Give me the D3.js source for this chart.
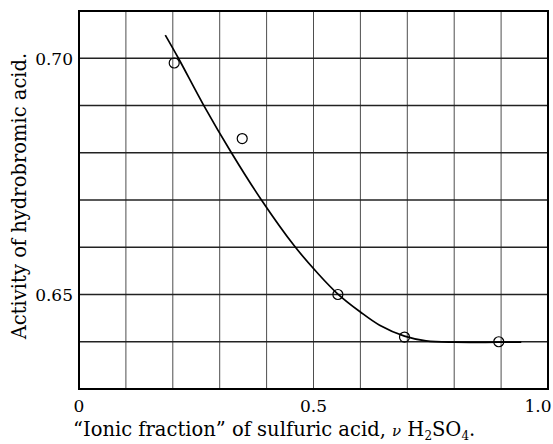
<!DOCTYPE html>
<html>
<head>
<meta charset="utf-8">
<script src="https://cdn.jsdelivr.net/npm/d3@7"></script>
<style>
  body { margin: 0; background: #fff; }
  text { font-family: "DejaVu Serif", "Liberation Serif", serif; fill: #000; }
  .grid line { stroke: #222; }
</style>
</head>
<body>
<div id="chart"></div>
<script>
// --- data ---

// measured points (open circles)
const pointX = [0.203, 0.348, 0.552, 0.694, 0.895];
const pointY = [0.699, 0.683, 0.650, 0.641, 0.640];

// hand-drawn smooth curve through the points
const curveX = [0.184, 0.212, 0.265, 0.325, 0.389, 0.459, 0.509, 0.552, 0.600, 0.641, 0.694, 0.740, 0.800, 0.895, 0.943];
const curveY = [0.7049, 0.7000, 0.6902, 0.6800, 0.6700, 0.6603, 0.6545, 0.6501, 0.6463, 0.6435, 0.6412, 0.6402, 0.6399, 0.6399, 0.6399];

// grid lines and labelled ticks
const xGrid = [0, 0.1, 0.2, 0.3, 0.4, 0.5, 0.6, 0.7, 0.8, 0.9, 1.0];
const yGrid = [0.63, 0.64, 0.65, 0.66, 0.67, 0.68, 0.69, 0.70, 0.71];
const xTickVals = [0, 0.5, 1.0];
const xTickLabels = ["0", "0.5", "1.0"];
const yTickVals = [0.70, 0.65];
const yTickLabels = ["0.70", "0.65"];

// --- chart setup ---
const W = 553, H = 444;
const plot = { left: 79, right: 548, top: 11, bottom: 389 };

const svg = d3.select("#chart").append("svg")
    .attr("width", W)
    .attr("height", H);

const x = d3.scaleLinear().domain([0, 1]).range([plot.left, plot.right]);
const y = d3.scaleLinear().domain([0.63, 0.71]).range([plot.bottom, plot.top]);

// grid
const grid = svg.append("g").attr("class", "grid");
grid.selectAll(".vg").data(xGrid).enter().append("line")
    .attr("class", "vg")
    .attr("x1", d => x(d)).attr("x2", d => x(d))
    .attr("y1", plot.top).attr("y2", plot.bottom)
    .attr("stroke-width", 1)
    .attr("stroke-opacity", 0.8);
grid.selectAll(".hg").data(yGrid).enter().append("line")
    .attr("class", "hg")
    .attr("x1", plot.left).attr("x2", plot.right)
    .attr("y1", d => y(d)).attr("y2", d => y(d))
    .attr("stroke-width", 1.3);

// frame
svg.append("rect")
    .attr("x", plot.left).attr("y", plot.top)
    .attr("width", plot.right - plot.left)
    .attr("height", plot.bottom - plot.top)
    .attr("fill", "none")
    .attr("stroke", "#000")
    .attr("stroke-width", 2);

// tick labels
svg.selectAll(".ylab").data(yTickVals).enter().append("text")
    .attr("class", "ylab")
    .attr("x", 73)
    .attr("y", d => y(d))
    .attr("dy", "0.4em")
    .attr("text-anchor", "end")
    .style("font-size", "17px")
    .text((d, i) => yTickLabels[i]);

svg.selectAll(".xlab").data(xTickVals).enter().append("text")
    .attr("class", "xlab")
    .attr("x", d => Math.min(x(d), 538))
    .attr("y", 412)
    .attr("text-anchor", "middle")
    .style("font-size", "17px")
    .text((d, i) => xTickLabels[i]);

// curve
const line = d3.line()
    .x(d => x(d[0]))
    .y(d => y(d[1]))
    .curve(d3.curveCatmullRom.alpha(0.5));

svg.append("path")
    .datum(curveX.map((v, i) => [v, curveY[i]]))
    .attr("d", line)
    .attr("fill", "none")
    .attr("stroke", "#000")
    .attr("stroke-width", 1.7);

// points
svg.selectAll(".pt").data(pointX).enter().append("circle")
    .attr("class", "pt")
    .attr("cx", d => x(d))
    .attr("cy", (d, i) => y(pointY[i]))
    .attr("r", 5)
    .attr("fill", "none")
    .attr("stroke", "#000")
    .attr("stroke-width", 1.2);

// axis titles
svg.append("text")
    .attr("transform", "translate(26,196) rotate(-90)")
    .attr("text-anchor", "middle")
    .style("font-size", "19.5px")
    .text("Activity of hydrobromic acid.");

const xt = svg.append("text")
    .attr("x", 73)
    .attr("y", 436)
    .style("font-size", "19.5px");
xt.append("tspan").text("\u201cIonic fraction\u201d of sulfuric acid, ");
xt.append("tspan").style("font-style", "italic").style("font-size", "15px").text("\u03bd");
xt.append("tspan").text(" H");
xt.append("tspan").style("font-size", "12px").attr("dy", 4).text("2");
xt.append("tspan").attr("dy", -4).text("SO");
xt.append("tspan").style("font-size", "12px").attr("dy", 4).text("4");
xt.append("tspan").attr("dy", -4).text(".");
</script>
</body>
</html>
